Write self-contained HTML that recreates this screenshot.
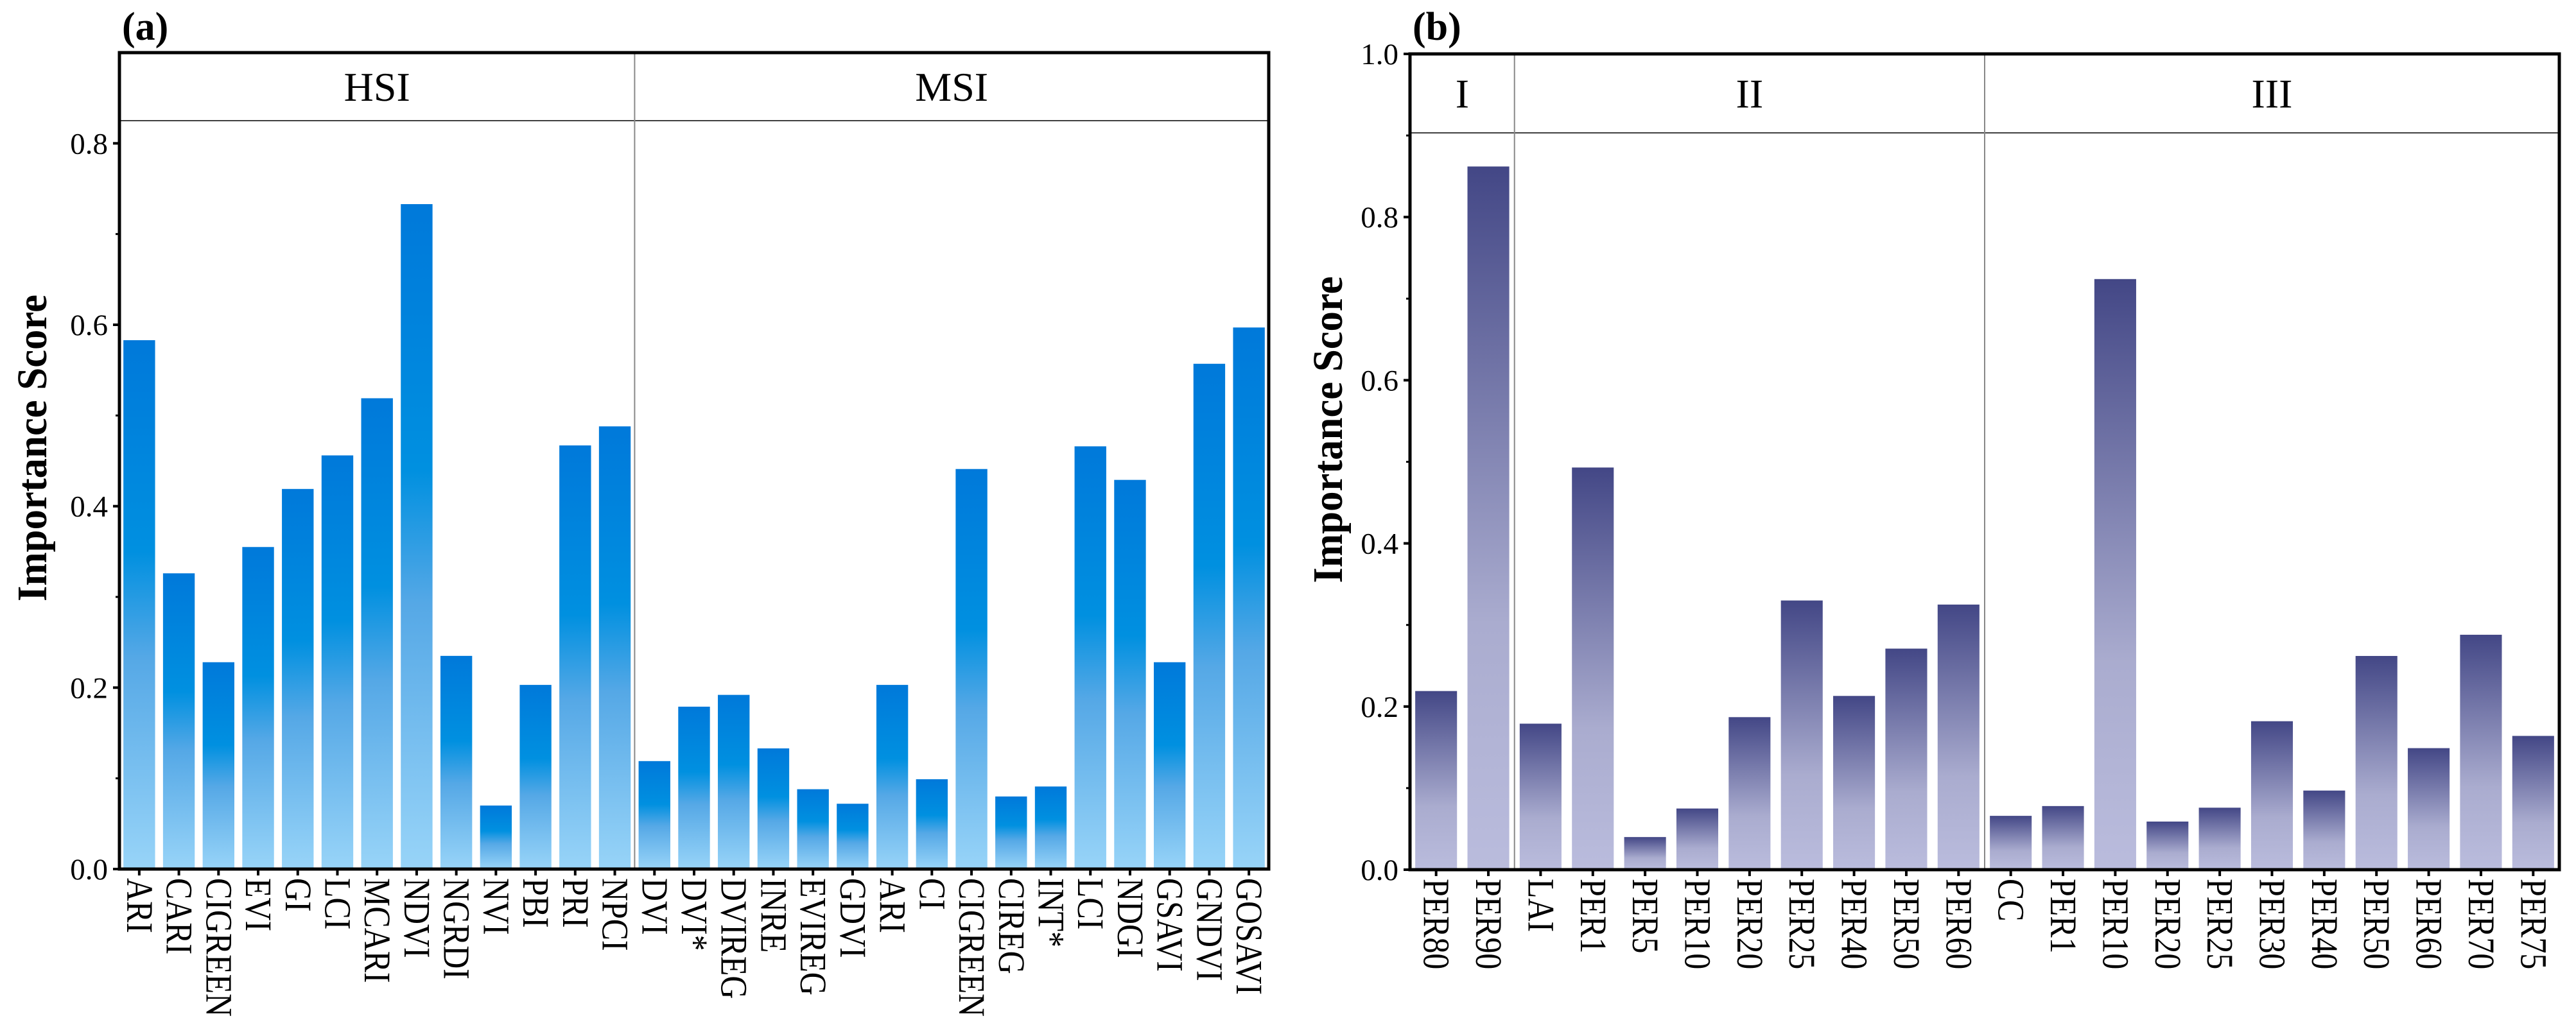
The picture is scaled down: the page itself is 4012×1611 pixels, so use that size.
<!DOCTYPE html>
<html><head><meta charset="utf-8">
<style>
html,body{margin:0;padding:0;background:#fff;}
svg{display:block;}
text{font-family:"Liberation Serif",serif;fill:#000;}
</style></head>
<body>
<svg id="chart" width="4012" height="1611" viewBox="0 0 4012 1611" xmlns="http://www.w3.org/2000/svg">
<defs>
<linearGradient id="gradA" x1="0" y1="0" x2="0" y2="1">
<stop offset="0" stop-color="#0079da"/><stop offset="0.4" stop-color="#0090e0"/><stop offset="0.6" stop-color="#55a8e6"/><stop offset="1" stop-color="#98d4f8"/>
</linearGradient>
<linearGradient id="gradB" x1="0" y1="0" x2="0" y2="1">
<stop offset="0" stop-color="#434786"/><stop offset="0.65" stop-color="#aaaccf"/><stop offset="1" stop-color="#babcdd"/>
</linearGradient>
</defs>
</svg>
<script>
// Panel (a) data
const catsA = ["ARI","CARI","CIGREEN","EVI","GI","LCI","MCARI","NDVI","NGRDI","NVI","PBI","PRI","NPCI","DVI","DVI*","DVIREG","INRE","EVIREG","GDVI","ARI","CI","CIGREEN","CIREG","INT*","LCI","NDGI","GSAVI","GNDVI","GOSAVI"];
const valsA = [0.583,0.326,0.228,0.355,0.419,0.456,0.519,0.733,0.235,0.070,0.203,0.467,0.488,0.119,0.179,0.192,0.133,0.088,0.072,0.203,0.099,0.441,0.080,0.091,0.466,0.429,0.228,0.557,0.597];
const groupsA = ["HSI","MSI"];
const groupSizesA = [13,16];
const ticksA = ["0.0","0.2","0.4","0.6","0.8"];
// Panel (b) data
const catsB = ["PER80","PER90","LAI","PER1","PER5","PER10","PER20","PER25","PER40","PER50","PER60","CC","PER1","PER10","PER20","PER25","PER30","PER40","PER50","PER60","PER70","PER75"];
const valsB = [0.219,0.862,0.179,0.493,0.040,0.075,0.187,0.330,0.213,0.271,0.325,0.066,0.078,0.724,0.059,0.076,0.182,0.097,0.262,0.149,0.288,0.164];
const groupsB = ["I","II","III"];
const groupSizesB = [2,9,11];
const ticksB = ["0.0","0.2","0.4","0.6","0.8","1.0"];

const NS = "http://www.w3.org/2000/svg";
const svg = document.getElementById("chart");
function mk(tag, attrs, parent){
  const e = document.createElementNS(NS, tag);
  for (const k in attrs) e.setAttribute(k, attrs[k]);
  (parent||svg).appendChild(e);
  return e;
}

function panel(cfg){
  const {id, left, right, top, bottom, head, vmax, cats, vals, groups, sizes, ticks, grad, barFrac, letter, titleX, letterX} = cfg;
  const g = mk("g", {});
  
  
  const n = cats.length;
  const slot = (right-left)/n;
  const y = v => bottom - v/vmax*(bottom-top);
  const xc = i => left + slot*(i+0.5);
  // bars
  vals.forEach((v,i)=>{
    const w = slot*barFrac;
    const r = mk("rect", {x: xc(i)-w/2, y: y(v), width: w, height: bottom-y(v), fill: "url(#"+grad+")"}, g);
    
    
  });
  // group separators & header
  const hl = mk("line", {x1:left, x2:right, y1:head, y2:head, stroke:"#000", "stroke-width":1.6}, g);
  
  
  let acc = 0;
  groups.forEach((name,gi)=>{
    const x0 = left + acc*slot;
    acc += sizes[gi];
    const x1 = left + acc*slot;
    if (gi < groups.length-1){
      const s = mk("line", {x1:x1, x2:x1, y1:top, y2:bottom, stroke:"#888", "stroke-width":2}, g);
      
      
    }
    const t = mk("text", {x:(x0+x1)/2, y:(top+head)/2+22, "text-anchor":"middle", "font-size":64}, g);
    t.textContent = name;
    
    
  });
  // frame
  const fr = mk("rect", {x:left, y:top, width:right-left, height:bottom-top, fill:"none", stroke:"#000", "stroke-width":5}, g);
  
  
  // y ticks
  const step = parseFloat(ticks[1]) - parseFloat(ticks[0]);
  ticks.forEach(tv=>{
    const v = parseFloat(tv);
    const yy = y(v);
    mk("line", {x1:left-10, x2:left, y1:yy, y2:yy, stroke:"#000", "stroke-width":4}, g);
    const t = mk("text", {x:left-18, y:yy+16, "text-anchor":"end", "font-size":47}, g);
    t.textContent = tv;
    
    
    const ym = y(v+step/2);
    if (ym > top+2) mk("line", {x1:left-6, x2:left, y1:ym, y2:ym, stroke:"#000", "stroke-width":3}, g);
  });
  // x ticks & labels
  cats.forEach((c,i)=>{
    mk("line", {x1:xc(i), x2:xc(i), y1:bottom, y2:bottom+10, stroke:"#000", "stroke-width":4}, g);
    const t = mk("text", {transform:"translate("+(xc(i)-19)+","+(bottom+14)+") rotate(90) scale(0.86,1)", "font-size":58}, g);
    t.textContent = c;
    
    
  });
  // y title
  const yt = mk("text", {transform:"translate("+titleX+","+((top+bottom)/2+ (cfg.titleShift||0))+") rotate(-90)", "text-anchor":"middle", "font-size":66, "font-weight":"bold", textLength:478, lengthAdjust:"spacingAndGlyphs"}, g);
  yt.textContent = "Importance Score";
  
  
  const lt = mk("text", {x:letterX, y:62, "font-size":62, "font-weight":"bold"}, g);
  lt.textContent = letter;
  
  
}

panel({id:"panel-a", left:186, right:1976, top:82, bottom:1354, head:188, vmax:0.9, cats:catsA, vals:valsA, groups:groupsA, sizes:groupSizesA, ticks:ticksA, grad:"gradA", barFrac:0.8, letter:"(a)", titleX:72, letterX:190, titleShift:-20});
panel({id:"panel-b", left:2196, right:3986, top:84, bottom:1355, head:207, vmax:1.0, cats:catsB, vals:valsB, groups:groupsB, sizes:groupSizesB, ticks:ticksB, grad:"gradB", barFrac:0.8, letter:"(b)", titleX:2090, letterX:2200, titleShift:-50});
</script>
</body></html>
